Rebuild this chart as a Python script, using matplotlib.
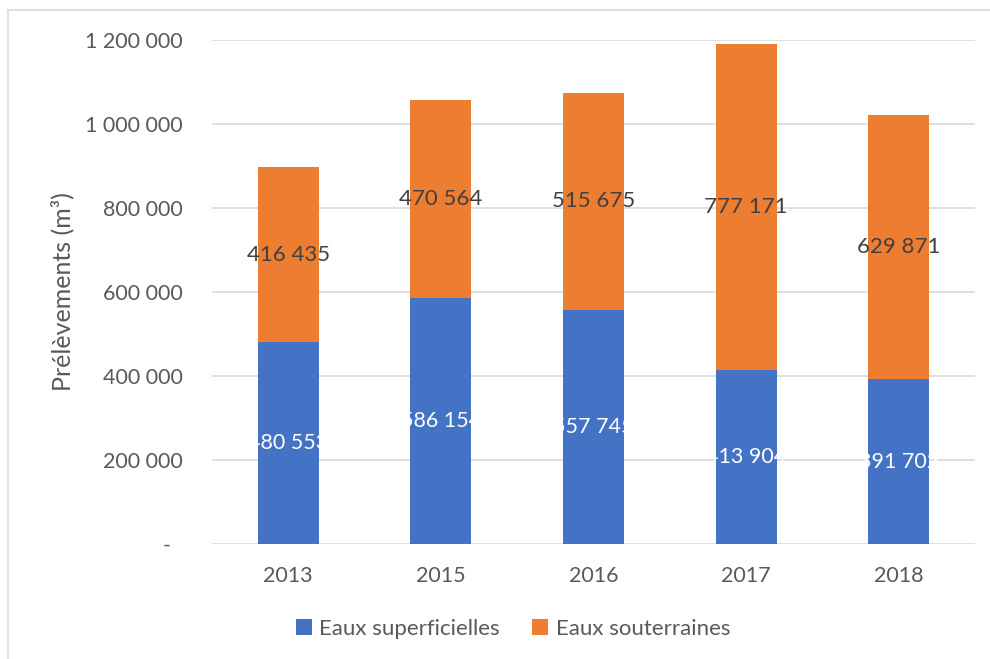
import matplotlib
matplotlib.use("Agg")
import matplotlib.pyplot as plt
from matplotlib.ticker import FuncFormatter
from matplotlib.patches import Rectangle

years = ["2013", "2015", "2016", "2017", "2018"]
superficielles = [480553, 586154, 557745, 413904, 391702]
souterraines = [416435, 470564, 515675, 777171, 629871]
yticks = [0, 200000, 400000, 600000, 800000, 1000000, 1200000]

plt.rcParams['font.family'] = ['Lato', 'DejaVu Sans']

fig = plt.figure(figsize=(9.9, 6.59), dpi=100)
ax = fig.add_axes([212/990, 1 - 544/659, (975-212)/990, (544-40)/659])

# chart border (cropped frame)
fig.patches.append(Rectangle((8/990, -0.1), 1.2, 1 - 10/659 + 0.1, transform=fig.transFigure,
                             fill=False, edgecolor='#d9d9d9', linewidth=1.2))

blue = '#4472c4'
orange = '#ed7d31'
x = range(len(years))
b1 = ax.bar(x, superficielles, width=0.4, color=blue, zorder=2)
b2 = ax.bar(x, souterraines, width=0.4, bottom=superficielles, color=orange, zorder=2)

def fmt(v):
    return f"{int(round(v)):,}".replace(",", " ")

for i in x:
    ax.text(i, superficielles[i] / 2, fmt(superficielles[i]), ha='center', va='center',
            color='white', fontsize=15.5, zorder=3)
    ax.text(i, superficielles[i] + souterraines[i] / 2, fmt(souterraines[i]), ha='center',
            va='center', color='#404040', fontsize=16, zorder=3)

ax.set_xlim(-0.5, len(years) - 0.5)
ax.set_ylim(0, 1200000)
ax.set_yticks(yticks)
ax.yaxis.set_major_formatter(FuncFormatter(lambda v, p: "-\u2002\u200a" if v == 0 else fmt(v)))
ax.set_xticks(list(x))
ax.set_xticklabels(years)
ax.grid(axis='y', color='#d9d9d9', linewidth=1.2, zorder=0)
for s in ax.spines.values():
    s.set_visible(False)
ax.tick_params(axis='both', length=0, labelsize=15.5, labelcolor='#595959')
ax.tick_params(axis='y', pad=21)
ax.tick_params(axis='x', pad=16)
ax.set_ylabel("Prélèvements (m³)", fontsize=18, color='#595959', labelpad=7.5)

fig.legend([b1, b2], ["Eaux superficielles", "Eaux souterraines"], loc='center',
           bbox_to_anchor=(513/990, 1 - 629/659), ncol=2, frameon=False,
           fontsize=16, labelcolor='#595959', handlelength=0.7, handleheight=0.7,
           columnspacing=1.45, handletextpad=0.35)

fig.savefig("out.png", dpi=100)
